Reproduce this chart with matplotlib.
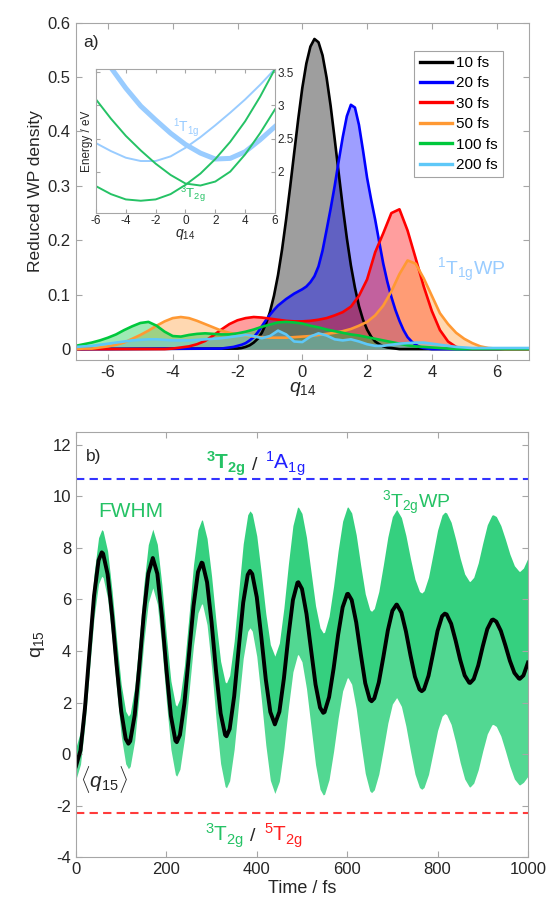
import matplotlib

matplotlib.use("Agg")
import matplotlib.pyplot as plt
import numpy as np

plt.rcParams["font.family"] = ["Liberation Sans", "DejaVu Sans"]
plt.rcParams["mathtext.fontset"] = "custom"
plt.rcParams["mathtext.rm"] = "Liberation Sans"
plt.rcParams["mathtext.it"] = "Liberation Sans:italic"
plt.rcParams["mathtext.bf"] = "Liberation Sans:bold"
plt.rcParams["axes.unicode_minus"] = False

# ---- panel a: reduced wavepacket density along q14 ----
q14 = np.linspace(-7, 7, 57)  # step 0.25
# the two narrow early packets are read on a finer grid (step 0.125)
q14_10 = np.concatenate([[-7], np.linspace(-2, 3, 41), [7]])
q14_20 = np.concatenate([[-7], np.linspace(-2.5, 4, 53), [7]])

dens_10 = [0, 0.001, 0.002, 0.004, 0.007, 0.012, 0.019, 0.030, 0.046, 0.068,
           0.098, 0.136, 0.183, 0.238, 0.298, 0.361, 0.423, 0.480,
           0.525, 0.556, 0.570, 0.564, 0.540, 0.499, 0.447, 0.386,
           0.323, 0.261, 0.204, 0.154, 0.113, 0.079, 0.054, 0.036,
           0.023, 0.014, 0.009, 0.005, 0.003, 0.002, 0.001, 0.0, 0]
dens_20 = [0, 0.001, 0.002, 0.003, 0.004, 0.006, 0.008, 0.011, 0.016, 0.022, 0.031, 0.042, 0.053, 0.063,
           0.072, 0.080, 0.086, 0.092, 0.097, 0.102, 0.106, 0.110,
           0.115, 0.123, 0.134, 0.152, 0.181, 0.219, 0.258, 0.300,
           0.346, 0.390, 0.428, 0.449, 0.444, 0.412, 0.365, 0.315,
           0.275, 0.238, 0.197, 0.157, 0.124, 0.096, 0.072, 0.052,
           0.035, 0.022, 0.014, 0.008, 0.004, 0.002, 0.001, 0.0, 0]
dens_30 = [0] * 12 + [0.001, 0.003, 0.005, 0.009, 0.015, 0.025, 0.036, 0.046, 0.053, 0.057,
                      0.059, 0.058, 0.056, 0.054, 0.052, 0.051, 0.051, 0.052, 0.054, 0.057,
                      0.062, 0.068, 0.078, 0.098, 0.128, 0.178, 0.213, 0.250, 0.257, 0.218,
                      0.167, 0.115, 0.070, 0.035, 0.014, 0.004, 0.001] + [0] * 8
dens_50 = [0.000, 0.001, 0.001, 0.003, 0.005, 0.008, 0.012, 0.019, 0.026, 0.034,
           0.043, 0.051, 0.057, 0.059, 0.057, 0.052, 0.046, 0.040, 0.034, 0.030,
           0.027, 0.025, 0.023, 0.022, 0.021, 0.021, 0.021, 0.022, 0.023, 0.024,
           0.026, 0.028, 0.030, 0.033, 0.037, 0.043, 0.050, 0.062, 0.080, 0.106,
           0.138, 0.163, 0.157, 0.130, 0.098, 0.066, 0.046, 0.030, 0.019, 0.011,
           0.005, 0.002, 0.001, 0, 0, 0, 0]
dens_100 = [0.006, 0.009, 0.012, 0.016, 0.021, 0.027, 0.035, 0.042, 0.048, 0.050,
            0.043, 0.032, 0.024, 0.023, 0.026, 0.028, 0.029, 0.028, 0.027, 0.027,
            0.029, 0.032, 0.036, 0.041, 0.045, 0.049, 0.050, 0.049, 0.047, 0.043,
            0.040, 0.036, 0.033, 0.030, 0.027, 0.025, 0.022, 0.019, 0.016, 0.013,
            0.010, 0.007, 0.005, 0.004, 0.003, 0.002, 0.001] + [0] * 10
dens_200 = [0.004, 0.005, 0.006, 0.008, 0.010, 0.012, 0.014, 0.016, 0.017, 0.018,
            0.018, 0.017, 0.016, 0.016, 0.016, 0.017, 0.018, 0.019, 0.020, 0.022,
            0.024, 0.026, 0.024, 0.020, 0.024, 0.034, 0.027, 0.014, 0.013, 0.023,
            0.029, 0.025, 0.018, 0.016, 0.018, 0.014, 0.009, 0.006, 0.006, 0.008,
            0.010, 0.011, 0.012, 0.012, 0.010, 0.008, 0.006, 0.004, 0.003] + [0.002] * 8

times_a = ["10 fs", "20 fs", "30 fs", "50 fs", "100 fs", "200 fs"]
colors_a = ["black", "#0000ff", "#ff0000", "#ff9933", "#00c83c", "#5ec8f8"]

# inset: potential energy cuts along q14
q_inset = [-6, -5, -4, -3, -2, -1, 0, 1, 2, 3, 4, 5, 6]
e_1t1g_a = [3.90, 3.57, 3.26, 2.99, 2.78, 2.58, 2.41, 2.28, 2.19, 2.20, 2.30, 2.48, 2.68]
e_1t1g_b = [2.43, 2.31, 2.21, 2.16, 2.16, 2.23, 2.36, 2.52, 2.70, 2.89, 3.09, 3.31, 3.55]
e_3t2g_a = [1.78, 1.66, 1.58, 1.56, 1.58, 1.66, 1.80, 1.97, 2.19, 2.45, 2.76, 3.13, 3.55]
e_3t2g_b = [3.09, 2.80, 2.54, 2.32, 2.12, 1.95, 1.82, 1.79, 1.85, 2.00, 2.26, 2.58, 2.94]

# ---- panel b: <q15> and FWHM of the 3T2g wavepacket ----
time_b = [0, 10, 20, 30, 40, 50, 57, 60, 70, 80, 90, 100, 110, 116, 120, 130, 140, 150, 160,
          170, 180, 190, 200, 210, 220, 223, 230, 240, 250, 260, 270, 278, 280, 290, 300,
          310, 320, 330, 333, 340, 350, 360, 370, 380, 385, 390, 400, 410, 420, 430, 440,
          450, 460, 470, 480, 490, 492, 500, 510, 520, 530, 540, 547, 550, 560, 570, 580,
          590, 600, 602, 610, 620, 630, 640, 650, 654, 660, 670, 680, 690, 700, 709, 710,
          720, 730, 740, 750, 760, 765, 770, 780, 790, 800, 810, 816, 820, 830, 840, 850,
          860, 870, 872, 880, 890, 900, 910, 920, 923, 930, 940, 950, 960, 970, 980, 982,
          990, 1000]
q15_mean = [-0.47, 0.14, 1.80, 4.02, 6.15, 7.52, 7.83, 7.78, 6.98, 5.37, 3.43, 1.67, 0.59, 0.40,
            0.50, 1.52, 3.38, 5.43, 7.01, 7.61, 7.00, 5.37, 3.30, 1.48, 0.52, 0.46, 0.74, 1.98,
            3.85, 5.74, 7.07, 7.43, 7.41, 6.67, 5.11, 3.20, 1.58, 0.74, 0.69, 0.97, 2.24, 4.09,
            5.88, 6.96, 7.11, 6.99, 6.09, 4.55, 2.89, 1.63, 1.15, 1.64, 2.93, 4.57, 5.98, 6.65,
            6.67, 6.41, 5.44, 4.06, 2.70, 1.80, 1.60, 1.63, 2.21, 3.32, 4.63, 5.70, 6.21, 6.22,
            5.98, 5.11, 3.89, 2.75, 2.11, 2.05, 2.16, 2.78, 3.76, 4.80, 5.56, 5.80, 5.80, 5.49,
            4.76, 3.84, 3.00, 2.51, 2.44, 2.51, 3.04, 3.90, 4.78, 5.35, 5.45, 5.42, 5.06, 4.40,
            3.66, 3.05, 2.77, 2.76, 2.91, 3.44, 4.18, 4.85, 5.20, 5.22, 5.14, 4.78, 4.22, 3.62,
            3.15, 2.93, 2.92, 3.05, 3.55]
q15_upper = [0.26, 0.88, 2.58, 4.83, 7.00, 8.40, 8.71, 8.66, 7.88, 6.31, 4.42, 2.71, 1.66, 1.47,
             1.57, 2.60, 4.47, 6.54, 8.13, 8.73, 8.14, 6.58, 4.59, 2.84, 1.92, 1.86, 2.15, 3.44,
             5.37, 7.34, 8.71, 9.09, 9.07, 8.37, 6.91, 5.12, 3.60, 2.80, 2.76, 3.05, 4.38, 6.30,
             8.16, 9.29, 9.44, 9.33, 8.47, 7.02, 5.45, 4.25, 3.80, 4.31, 5.67, 7.38, 8.87, 9.57,
             9.59, 9.34, 8.41, 7.08, 5.76, 4.90, 4.70, 4.73, 5.35, 6.52, 7.90, 9.04, 9.58, 9.59,
             9.36, 8.51, 7.32, 6.22, 5.60, 5.54, 5.65, 6.31, 7.34, 8.43, 9.22, 9.48, 9.48, 9.18,
             8.48, 7.59, 6.79, 6.31, 6.25, 6.33, 6.87, 7.77, 8.69, 9.28, 9.39, 9.36, 9.00, 8.34,
             7.60, 6.99, 6.71, 6.70, 6.86, 7.42, 8.19, 8.90, 9.27, 9.29, 9.22, 8.87, 8.34, 7.76,
             7.31, 7.10, 7.09, 7.22, 7.61]
q15_lower = [-0.98, -0.40, 1.18, 3.28, 5.30, 6.61, 6.90, 6.85, 6.04, 4.43, 2.48, 0.71, -0.38, -0.57,
             -0.48, 0.53, 2.33, 4.33, 5.87, 6.45, 5.82, 4.16, 2.04, 0.18, -0.80, -0.86, -0.59, 0.60,
             2.39, 4.21, 5.48, 5.83, 5.81, 5.02, 3.37, 1.35, -0.37, -1.26, -1.31, -1.04, 0.19, 1.98,
             3.71, 4.76, 4.90, 4.77, 3.79, 2.14, 0.35, -1.02, -1.53, -1.06, 0.21, 1.81, 3.19, 3.84,
             3.86, 3.58, 2.54, 1.06, -0.41, -1.37, -1.59, -1.56, -0.99, 0.11, 1.39, 2.45, 2.95, 2.96,
             2.71, 1.77, 0.46, -0.75, -1.43, -1.50, -1.39, -0.78, 0.18, 1.20, 1.94, 2.18, 2.18, 1.85,
             1.08, 0.11, -0.78, -1.30, -1.37, -1.30, -0.79, 0.06, 0.91, 1.47, 1.57, 1.53, 1.15, 0.46,
             -0.33, -0.97, -1.27, -1.28, -1.13, -0.61, 0.12, 0.78, 1.13, 1.15, 1.07, 0.70, 0.13, -0.48,
             -0.97, -1.19, -1.20, -1.10, -0.86]
q15_cross_1a1g = 10.68
q15_cross_5t2g = -2.28

green = "#25c265"
light_blue = "#99ccff"
spine_grey = "#a6a6a6"
text_grey = "#262626"


def style_axes(ax, labelsize):
    for sp in ax.spines.values():
        sp.set_color(spine_grey)
        sp.set_linewidth(0.8)
    ax.tick_params(direction="in", top=True, right=True, length=4, width=0.8,
                   color=spine_grey, labelcolor=text_grey, labelsize=labelsize)


fig = plt.figure(figsize=(5.47, 9.10), dpi=100)

# panel a
ax1 = fig.add_axes([0.1382, 0.6044, 0.8289, 0.3707])
grids = [q14_10, q14_20, q14, q14, q14, q14]
densities = [dens_10, dens_20, dens_30, dens_50, dens_100, dens_200]
handles = []
for qq, dens, col, lab in zip(grids, densities, colors_a, times_a):
    ax1.fill_between(qq, 0, dens, color=col, alpha=0.38, lw=0)
    (ln,) = ax1.plot(qq, dens, color=col, lw=1.9, label=lab)
    handles.append(ln)

ax1.set_xlim(-7, 7)
ax1.set_ylim(-0.02, 0.6)
ax1.set_xticks([-6, -4, -2, 0, 2, 4, 6])
ax1.set_yticks([0, 0.1, 0.2, 0.3, 0.4, 0.5, 0.6])
ax1.set_yticklabels(["0", "0.1", "0.2", "0.3", "0.4", "0.5", "0.6"])
style_axes(ax1, 12)
ax1.set_xlabel(r"$q_{14}$", fontsize=14, color=text_grey, labelpad=0)
ax1.set_ylabel("Reduced WP density", fontsize=12.5, color=text_grey, labelpad=3)
ax1.text(0.016, 0.928, "a)", transform=ax1.transAxes, fontsize=12.5, color=text_grey)
ax1.text(4.15, 0.136, r"$^{1}$T$_{\mathrm{1g}}$WP", fontsize=14, color=light_blue)

leg = ax1.legend(handles=handles, loc="upper right", bbox_to_anchor=(0.943, 0.917),
                 borderaxespad=0, fontsize=11, frameon=True, fancybox=False,
                 handlelength=2.1, handletextpad=0.3, labelspacing=0.42, borderpad=0.35)
leg.get_frame().set_edgecolor("#8c8c8c")
leg.get_frame().set_linewidth(0.8)
for ln in leg.get_lines():
    ln.set_linewidth(2.4)

# inset
axi = fig.add_axes([0.1755, 0.7663, 0.3272, 0.1579])
axi.plot(q_inset, e_1t1g_a, color=light_blue, lw=3.6)
axi.plot(q_inset, e_1t1g_b, color=light_blue, lw=1.4)
axi.plot(q_inset, e_3t2g_a, color=green, lw=1.4)
axi.plot(q_inset, e_3t2g_b, color=green, lw=1.4)
axi.set_xlim(-6, 6)
axi.set_ylim(1.38, 3.55)
axi.set_xticks([-6, -4, -2, 0, 2, 4, 6])
axi.set_yticks([2, 2.5, 3, 3.5])
axi.set_yticklabels(["2", "2.5", "3", "3.5"])
style_axes(axi, 8.5)
axi.tick_params(labelleft=False, labelright=True, length=3, pad=2)
axi.set_xlabel(r"$q_{14}$", fontsize=10, color=text_grey, labelpad=0)
axi.set_ylabel("Energy / eV", fontsize=8.5, color=text_grey, labelpad=2)
axi.text(-0.84, 2.60, r"$^{1}$T$_{\mathrm{1g}}$", fontsize=10, color=light_blue)
axi.text(-0.37, 1.60, r"$^{3}$T$_{\mathrm{2g}}$", fontsize=9.5, color=green)

# panel b
ax2 = fig.add_axes([0.1389, 0.0582, 0.8263, 0.4670])
ax2.fill_between(time_b, q15_mean, q15_upper, color="#35d07f", lw=0)
ax2.fill_between(time_b, q15_lower, q15_mean, color="#52d892", lw=0)
ax2.plot(time_b, q15_mean, color="black", lw=2.8)
ax2.axhline(q15_cross_1a1g, color="#3333ff", lw=1.5, ls=(0, (4, 2.5)))
ax2.axhline(q15_cross_5t2g, color="#ff3b3b", lw=1.5, ls=(0, (4, 2.5)))

ax2.set_xlim(0, 1000)
ax2.set_ylim(-4, 12.5)
ax2.set_xticks([0, 200, 400, 600, 800, 1000])
ax2.set_yticks([-4, -2, 0, 2, 4, 6, 8, 10, 12])
style_axes(ax2, 12)
ax2.set_xlabel("Time / fs", fontsize=13, color=text_grey, labelpad=2)
ax2.set_ylabel(r"q$_{15}$", fontsize=14, color=text_grey, labelpad=4)

ax2.text(0.022, 0.932, "b)", transform=ax2.transAxes, fontsize=12.5, color=text_grey)
ax2.text(288, 11.03, r"$\mathbf{^{3}T_{2g}}$", fontsize=15, color=green)
ax2.text(389, 11.03, "/", fontsize=14, color=text_grey)
ax2.text(418, 11.03, r"$^{1}$A$_{\mathrm{1g}}$", fontsize=15, color="#2020ff")
ax2.text(49, 9.21, "FWHM", fontsize=15, color=green)
ax2.text(678, 9.56, r"$^{3}$T$_{\mathrm{2g}}$WP", fontsize=14, color=green)
ax2.text(9, -1.30, r"$\langle q_{15}\rangle$", fontsize=15, color=text_grey)
ax2.text(285, -3.38, r"$^{3}$T$_{\mathrm{2g}}$", fontsize=15, color=green)
ax2.text(385, -3.38, "/", fontsize=14, color=text_grey)
ax2.text(416, -3.38, r"$^{5}$T$_{\mathrm{2g}}$", fontsize=15, color="#ff2020")

fig.savefig("out.png", dpi=100)
